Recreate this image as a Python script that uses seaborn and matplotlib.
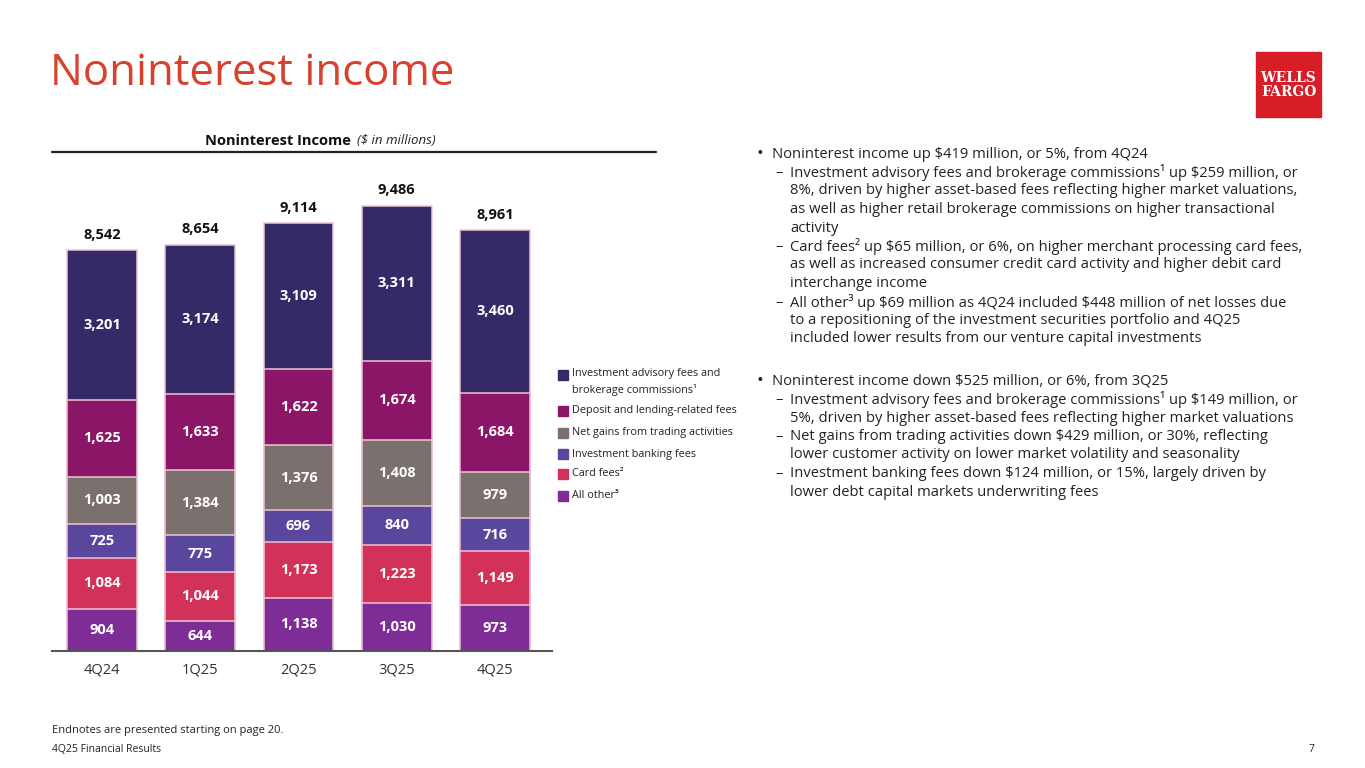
import numpy as np
import pandas as pd
import matplotlib.pyplot as plt
import seaborn as sns
from matplotlib.lines import Line2D
from matplotlib.patches import Rectangle

# data (in $ millions)
quarters = ['4Q24', '1Q25', '2Q25', '3Q25', '4Q25']
advisory = [3201, 3174, 3109, 3311, 3460]
deposit = [1625, 1633, 1622, 1674, 1684]
trading = [1003, 1384, 1376, 1408, 979]
ib_fees = [725, 775, 696, 840, 716]
card_fees = [1084, 1044, 1173, 1223, 1149]
all_other = [904, 644, 1138, 1030, 973]
totals = [8542, 8654, 9114, 9486, 8961]

# bottom -> top
segments = [
    ('All other\u00b3', all_other, '#7e2c96'),
    ('Card fees\u00b2', card_fees, '#d2325a'),
    ('Investment banking fees', ib_fees, '#5a479d'),
    ('Net gains from trading activities', trading, '#7a716f'),
    ('Deposit and lending-related fees', deposit, '#8b1566'),
    ('Investment advisory fees and\nbrokerage commissions\u00b9', advisory, '#342a67'),
]

sns.set_style('white')
plt.rcParams['font.family'] = ['Open Sans', 'DejaVu Sans']
plt.rcParams['text.parse_math'] = False

W, H = 1365, 768
fig = plt.figure(figsize=(W / 100, H / 100), dpi=100)


def px(x, y):
    return x / W, 1 - y / H


# chart axes: baseline at y=651 px, x from 52 to 552 px
ax = fig.add_axes([52 / W, (H - 651) / H, 500 / W, 499 / H])

vals = np.array([s[1] for s in segments])
cum = vals.cumsum(axis=0)

# layered cumulative bars (top layer first)
for k in range(len(segments) - 1, -1, -1):
    df = pd.DataFrame({'quarter': quarters, 'value': cum[k]})
    sns.barplot(data=df, x='quarter', y='value', color=segments[k][2],
                saturation=1, width=0.712, edgecolor='#efc3d6',
                linewidth=1.1, ax=ax, errorbar=None)

# segment labels
for k, (name, v, c) in enumerate(segments):
    bottoms = cum[k] - vals[k]
    for i in range(len(quarters)):
        ax.text(i, bottoms[i] + v[i] / 2, f'{v[i]:,}', ha='center', va='center',
                color='white', fontsize=10.5, fontweight='bold')

for i, t in enumerate(totals):
    ax.annotate(f'{t:,}', (i, t), xytext=(0, 6), textcoords='offset points',
                ha='center', va='bottom', fontsize=10.5, fontweight='bold',
                color='#111111')

ax.set_xlim(-0.509, 4.58)
ax.set_ylim(0, 10628)
ax.set_xlabel('')
ax.set_ylabel('')
ax.set_yticks([])
for s in ['top', 'left', 'right']:
    ax.spines[s].set_visible(False)
ax.spines['bottom'].set_color('#555555')
ax.spines['bottom'].set_linewidth(1.5)
ax.tick_params(axis='x', length=0, pad=8, labelsize=10.5, labelcolor='#333333')
ax.patch.set_alpha(0)

# title
fig.text(*px(50, 74), 'Noninterest income', fontsize=31.5, color='#d8412e',
         va='center', ha='left')

# chart title and rule
fig.text(*px(355, 141), 'Noninterest Income ', fontsize=10.5, fontweight='bold',
         ha='right', va='center', color='#111111')
fig.text(*px(357, 141), '($ in millions)', fontsize=9.5, fontstyle='italic',
         ha='left', va='center', color='#222222')
fig.add_artist(Line2D([52 / W, 656 / W], [1 - 152 / H] * 2, color='#222222', lw=1.6))

# logo
fig.add_artist(Rectangle(px(1256, 117), 65 / W, 65 / H, color='#d71e28'))
fig.text(*px(1288.5, 85), 'WELLS\nFARGO', fontsize=10, fontweight='bold',
         family='DejaVu Serif', color='white', ha='center', va='center',
         linespacing=1.05)

# legend
leg_y = [382, 411, 433, 454, 474, 496]
box_y = [375, 411, 433, 454, 474, 496]
for (name, v, c), y, by in zip(segments[::-1], leg_y, box_y):
    fig.add_artist(Rectangle(px(558, by + 5), 10 / W, 10 / H, color=c))
    fig.text(*px(572, y), name, fontsize=7.8, color='#222222', va='center',
             ha='left', linespacing=1.55)

# bullets
bullet1 = [
    ('b', 'Noninterest income up $419 million, or 5%, from 4Q24'),
    ('d', 'Investment advisory fees and brokerage commissions\u00b9 up $259 million, or'),
    ('c', '8%, driven by higher asset-based fees reflecting higher market valuations,'),
    ('c', 'as well as higher retail brokerage commissions on higher transactional'),
    ('c', 'activity'),
    ('d', 'Card fees\u00b2 up $65 million, or 6%, on higher merchant processing card fees,'),
    ('c', 'as well as increased consumer credit card activity and higher debit card'),
    ('c', 'interchange income'),
    ('d', 'All other\u00b3 up $69 million as 4Q24 included $448 million of net losses due'),
    ('c', 'to a repositioning of the investment securities portfolio and 4Q25'),
    ('c', 'included lower results from our venture capital investments'),
]
bullet2 = [
    ('b', 'Noninterest income down $525 million, or 6%, from 3Q25'),
    ('d', 'Investment advisory fees and brokerage commissions\u00b9 up $149 million, or'),
    ('c', '5%, driven by higher asset-based fees reflecting higher market valuations'),
    ('d', 'Net gains from trading activities down $429 million, or 30%, reflecting'),
    ('c', 'lower customer activity on lower market volatility and seasonality'),
    ('d', 'Investment banking fees down $124 million, or 15%, largely driven by'),
    ('c', 'lower debt capital markets underwriting fees'),
]


def draw_lines(lines, y0, step=18.5):
    y = y0
    for kind, txt in lines:
        if kind == 'b':
            fig.text(*px(756, y), '\u2022', fontsize=13, color='#222222', va='center')
            fig.text(*px(772, y), txt, fontsize=10.6, color='#222222', va='center')
        else:
            if kind == 'd':
                fig.text(*px(775, y), '\u2013', fontsize=10.6, color='#222222', va='center')
            fig.text(*px(790, y), txt, fontsize=10.6, color='#222222', va='center')
        y += step


draw_lines(bullet1, 154)
draw_lines(bullet2, 381)

# footer
fig.text(*px(52, 731), 'Endnotes are presented starting on page 20.', fontsize=8,
         color='#222222', va='center')
fig.text(*px(52, 750), '4Q25 Financial Results', fontsize=7.5, color='#222222',
         va='center')
fig.text(*px(1314, 750), '7', fontsize=7.5, color='#222222', va='center', ha='right')

fig.savefig('out.png', dpi=100)
